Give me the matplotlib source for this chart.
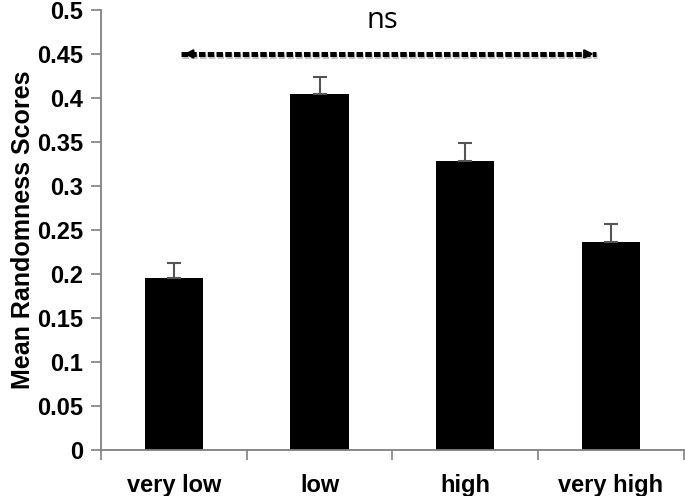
import matplotlib
matplotlib.use("Agg")
import matplotlib.pyplot as plt
import matplotlib.patheffects as pe
import numpy as np

categories = ["very low", "low", "high", "very high"]
means = [0.196, 0.405, 0.328, 0.236]
errors = [0.017, 0.019, 0.021, 0.021]
yticks = [0, 0.05, 0.1, 0.15, 0.2, 0.25, 0.3, 0.35, 0.4, 0.45, 0.5]
ytick_labels = ["0", "0.05", "0.1", "0.15", "0.2", "0.25", "0.3", "0.35", "0.4", "0.45", "0.5"]
sig_span = (0.05, 2.9)
sig_y = 0.45
sig_label = "ns"

plt.rcParams["font.family"] = ["Liberation Sans", "DejaVu Sans"]

fig = plt.figure(figsize=(6.85, 4.96), dpi=100)
ax = fig.add_axes([0.1474, 0.0927, 0.851, 0.8873])

x = np.arange(len(categories))
ax.bar(x, means, width=0.4, color="black", zorder=2)
ax.errorbar(x, means, yerr=[np.zeros(len(errors)), errors], fmt="none",
            ecolor="#555555", elinewidth=1.5, capsize=5, capthick=1.5, zorder=3)

ax.set_xlim(-0.5, 3.5)
ax.set_ylim(0, 0.5)
ax.set_yticks(yticks)
ax.set_yticklabels(ytick_labels, fontsize=17, fontweight="bold")
ax.set_xticks(np.arange(-0.5, 3.6, 1.0))
ax.set_xticklabels([])
ax.set_xticks(x, minor=True)
ax.set_xticklabels(categories, minor=True, fontsize=17, fontweight="bold")
ax.tick_params(axis="x", which="minor", length=0, pad=17)
ax.tick_params(axis="x", which="major", length=7, width=1.2, color="#808080", direction="out")
ax.tick_params(axis="y", length=7, width=1.2, color="#808080", direction="out", pad=6)

for side in ("top", "right"):
    ax.spines[side].set_visible(False)
for side in ("left", "bottom"):
    ax.spines[side].set_color("#808080")
    ax.spines[side].set_linewidth(1.3)

ax.set_ylabel("Mean Randomness Scores", fontsize=18, fontweight="bold", labelpad=1)

shadow = [pe.SimpleLineShadow(offset=(0.5, -1.5), shadow_color="#999999", alpha=0.6), pe.Normal()]
ax.plot(sig_span, [sig_y, sig_y], color="black", lw=3.6, ls=(0, (1.3, 0.45)),
        solid_capstyle="butt", zorder=4, path_effects=shadow, clip_on=False)
ax.annotate("", xy=(sig_span[0], sig_y), xytext=(sig_span[0] + 0.08, sig_y),
            arrowprops=dict(arrowstyle="-|>", color="black", lw=1.5, mutation_scale=13), zorder=5)
ax.annotate("", xy=(sig_span[1], sig_y), xytext=(sig_span[1] - 0.08, sig_y),
            arrowprops=dict(arrowstyle="-|>", color="black", lw=1.5, mutation_scale=13), zorder=5)
ax.text(1.43, 0.488, sig_label, ha="center", va="center", fontsize=21,
        family=["Open Sans", "DejaVu Sans"], clip_on=False)

fig.savefig("out.png", dpi=100)
